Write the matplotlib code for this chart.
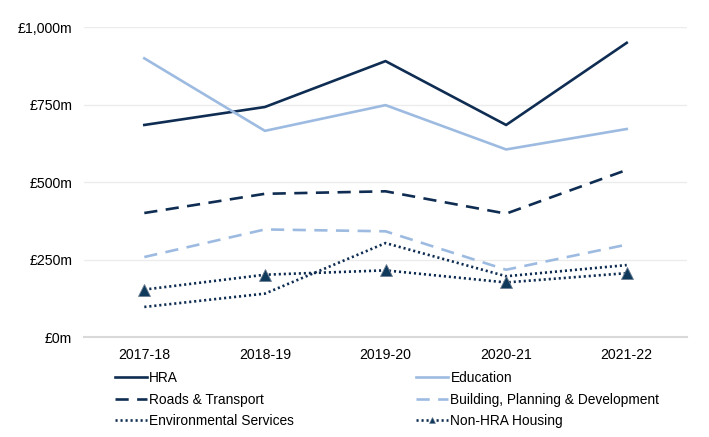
import numpy as np
import matplotlib
matplotlib.use("Agg")
from matplotlib import pyplot as plt
from matplotlib.lines import Line2D

plt.rcParams['font.family'] = ['Liberation Sans', 'DejaVu Sans']

years = ['2017-18', '2018-19', '2019-20', '2020-21', '2021-22']
hra = [684, 742, 890, 684, 949]
education = [899, 665, 748, 605, 671]
roads = [400, 462, 470, 398, 539]
building = [258, 347, 341, 217, 298]
environmental = [97, 140, 303, 196, 232]
non_hra = [153, 201, 215, 176, 206]

navy = '#0f2d52'
light = '#9dbbe1'

fig = plt.figure(figsize=(7.09, 4.37), dpi=100)
ax = fig.add_axes([0.1185, 0.2288, 0.8505, 0.7094])

x = np.arange(len(years))
lw = 1.9
dash = (5, 3.2)
dot = (0.8, 1.1)
l_hra, = ax.plot(x, hra, color=navy, lw=lw, label='HRA')
l_edu, = ax.plot(x, education, color=light, lw=lw, label='Education')
l_roads, = ax.plot(x, roads, color=navy, lw=lw, dashes=dash, label='Roads & Transport')
l_build, = ax.plot(x, building, color=light, lw=lw, dashes=dash,
                   label='Building, Planning & Development')
l_env, = ax.plot(x, environmental, color=navy, lw=lw, dashes=dot,
                 label='Environmental Services')
ax.plot(x, non_hra, color=navy, lw=lw, dashes=dot, marker='^',
        markersize=8, markeredgecolor='#6d7f93', markeredgewidth=0.6,
        markerfacecolor='#0f3a5c')
# smaller marker for the legend key
l_non = Line2D([], [], color=navy, lw=lw, dashes=dot, marker='^', markersize=5,
               markeredgecolor='#6d7f93', markeredgewidth=0.4,
               markerfacecolor='#0f3a5c', label='Non-HRA Housing')

ax.set_xlim(-0.5, 4.5)
ax.set_ylim(0, 1000)
ax.set_yticks([0, 250, 500, 750, 1000])
ax.set_yticklabels(['£0m', '£250m', '£500m', '£750m', '£1,000m'])
ax.set_xticks(x)
ax.set_xticklabels(years)
ax.tick_params(length=0, labelsize=10.2, colors='black')
ax.tick_params(axis='x', pad=8)
ax.tick_params(axis='y', pad=8.5)
ax.grid(axis='y', color='#ececec', lw=1)
ax.set_axisbelow(True)
for s in ['top', 'right', 'left']:
    ax.spines[s].set_visible(False)
ax.spines['bottom'].set_color('#d9d9d9')
ax.spines['bottom'].set_linewidth(1.5)

leg_kw = dict(frameon=False, fontsize=9.9, handlelength=2.3, handletextpad=0.2,
              labelspacing=0.55, borderpad=0, borderaxespad=0)
fig.legend(handles=[l_hra, l_roads, l_env], loc='upper left',
           bbox_to_anchor=(115 / 709, 1 - 371 / 437), **leg_kw)
fig.legend(handles=[l_edu, l_build, l_non], loc='upper left',
           bbox_to_anchor=(416 / 709, 1 - 371 / 437), **leg_kw)

fig.savefig('out.png', dpi=100)
